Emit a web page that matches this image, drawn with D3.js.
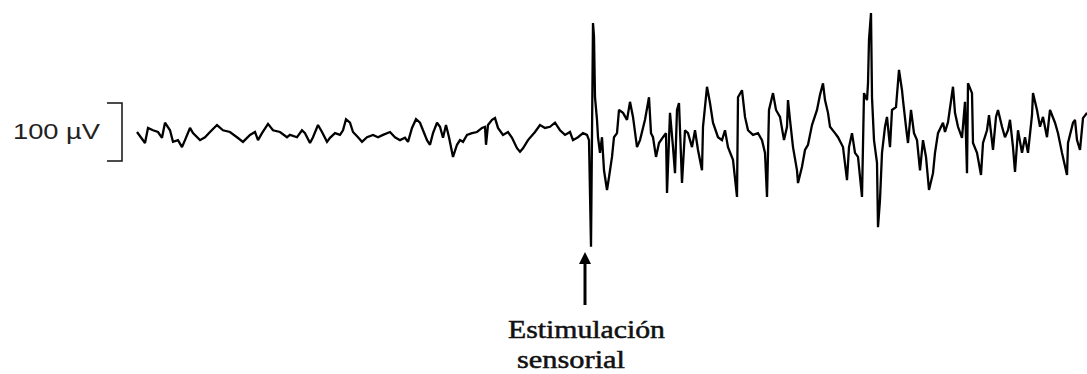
<!DOCTYPE html>
<html>
<head>
	<script src="https://cdn.jsdelivr.net/npm/d3@7"></script>
	<style>
		html, body {
			padding: 0;
			margin: 0;
			background: white;
		}
	</style>
</head>
<body>
	<div id="chart"></div>
	<script>
		// EEG trace, time in seconds, amplitude in microvolts
		var timeS = [
			0.00, 0.08, 0.11, 0.16, 0.21, 0.25, 0.28, 0.33, 0.36, 0.41, 0.45, 0.48, 0.53, 0.56, 0.63, 0.68, 0.73, 0.80, 0.86, 0.93,
			1.00, 1.06, 1.13, 1.18, 1.21, 1.25, 1.31, 1.36, 1.43, 1.50, 1.53, 1.60, 1.65, 1.68, 1.73, 1.76, 1.81, 1.85, 1.90, 1.93,
			1.98, 2.03, 2.06, 2.09, 2.13, 2.16, 2.21, 2.25, 2.30, 2.36, 2.41, 2.46, 2.53, 2.58, 2.63, 2.68, 2.71, 2.75, 2.79, 2.83,
			2.86, 2.90, 2.93, 2.96, 3.00, 3.03, 3.06, 3.09, 3.12, 3.16, 3.20, 3.23, 3.26, 3.30, 3.35, 3.40, 3.45, 3.48, 3.49, 3.51,
			3.55, 3.58, 3.61, 3.66, 3.71, 3.75, 3.80, 3.83, 3.86, 3.91, 3.98, 4.03, 4.08, 4.13, 4.18, 4.23, 4.28, 4.33, 4.36, 4.41,
			4.46, 4.50, 4.52, 4.54, 4.56, 4.57, 4.58, 4.60, 4.61, 4.63, 4.65, 4.67, 4.70, 4.72, 4.75, 4.77, 4.80, 4.82, 4.86, 4.90,
			4.93, 4.96, 5.00, 5.03, 5.08, 5.12, 5.14, 5.16, 5.19, 5.22, 5.26, 5.29, 5.30, 5.33, 5.36, 5.38, 5.40, 5.42, 5.45, 5.48,
			5.51, 5.55, 5.58, 5.61, 5.65, 5.66, 5.70, 5.73, 5.76, 5.81, 5.85, 5.88, 5.91, 5.96, 6.00, 6.01, 6.05, 6.08, 6.11, 6.16,
			6.21, 6.25, 6.28, 6.30, 6.32, 6.36, 6.39, 6.43, 6.47, 6.50, 6.51, 6.53, 6.56, 6.60, 6.61, 6.65, 6.68, 6.71, 6.75, 6.80,
			6.83, 6.86, 6.88, 6.91, 6.93, 6.98, 7.01, 7.06, 7.10, 7.12, 7.15, 7.18, 7.21, 7.25, 7.27, 7.30, 7.31, 7.32, 7.34, 7.35,
			7.37, 7.40, 7.41, 7.43, 7.45, 7.48, 7.50, 7.53, 7.55, 7.59, 7.62, 7.65, 7.66, 7.69, 7.71, 7.74, 7.77, 7.80, 7.83, 7.86,
			7.89, 7.92, 7.96, 7.98, 8.01, 8.06, 8.08, 8.11, 8.16, 8.18, 8.21, 8.25, 8.28, 8.30, 8.31, 8.35, 8.36, 8.40, 8.44, 8.46,
			8.50, 8.52, 8.56, 8.59, 8.61, 8.65, 8.68, 8.71, 8.73, 8.76, 8.78, 8.81, 8.85, 8.88, 8.91, 8.95, 8.96, 9.00, 9.03, 9.06,
			9.10, 9.13, 9.18, 9.21, 9.25, 9.30, 9.31, 9.36, 9.38, 9.40, 9.43, 9.46, 9.50
		];
		var microvolts = [
			0, -19, 7, 3, 0, -10, 16, 3, -17, -14, -26, -14, 7, -2, -14, -9, 0, 12, 3, 0,
			-9, -17, -5, 0, -14, -2, 14, 3, 0, -9, -5, -9, 3, -2, -19, -9, 12, 0, -17, -10,
			-2, -5, 3, 22, 16, 0, -9, -17, -9, -5, -9, -5, 0, -9, -14, -10, -17, 7, 22, 16,
			3, -14, -22, -2, 16, 9, -10, 12, -9, -43, -22, -14, -17, -5, -2, 0, 7, 9, -22, 12,
			21, 24, 7, -5, 0, -10, -28, -34, -28, -14, 0, 12, 7, 9, 16, 3, -5, 0, -14, -9,
			-2, -5, -14, -198, 188, 164, 60, 21, -9, -36, -9, -66, -100, -78, -43, -9, -2, 38, 33, 21,
			52, 26, -26, -14, 21, 60, -2, -9, -43, -19, -9, -2, -105, 33, -26, -71, 38, 50, -88, 3,
			-2, -26, 3, -31, -66, 9, 78, 50, 16, -9, -14, 3, -26, -48, -112, 60, 72, 26, 3, -5,
			-2, -14, -36, -112, 38, 67, 38, 26, -14, 9, 55, 21, -26, -66, -88, -60, -31, -22, 12, 38,
			64, 84, 55, 33, 9, -2, -9, -26, -83, -26, -2, -36, -43, -112, 67, 55, 84, 159, 205, 60,
			-14, -53, -164, -117, -36, 9, 26, -26, 38, 43, 107, 72, 55, 9, -19, 38, -2, -14, -66, -14,
			-43, -100, -71, -36, -2, 16, 0, 17, 78, 33, 9, -10, 52, -71, 84, 67, -19, -36, -74, -19,
			3, 29, -31, 26, 38, 9, -9, 3, 21, -26, -69, 3, -36, -9, -36, 29, 67, 38, 9, 26,
			-9, 38, 16, -2, -36, -74, -19, 16, 21, -14, -31, 24, 33
		];
		var calibrationUV = [-50, 50];
		var calibrationLabel = "100 \u00b5V";
		var stimulusTimeS = 4.48;
		var stimulusLabel = ["Estimulación", "sensorial"];

		var width = 1087, height = 374;

		var svg = d3.select('#chart').append('svg')
			.attr('width', width)
			.attr('height', height)
			.style('display', 'block')
			.style('background-color', 'white');

		var x = d3.scaleLinear().domain([0, 9.5]).range([137, 1087]);
		var y = d3.scaleLinear().domain([-100, 100]).range([190, 74]);

		var points = timeS.map(function(t, i) { return [t, microvolts[i]]; });

		var line = d3.line()
			.x(function(d) { return x(d[0]); })
			.y(function(d) { return y(d[1]); });

		svg.append('path')
			.datum(points)
			.attr('d', line)
			.attr('fill', 'none')
			.attr('stroke', '#000')
			.attr('stroke-width', 2.3)
			.attr('stroke-linejoin', 'miter')
			.attr('stroke-miterlimit', 2);

		// calibration bracket
		var bx = 122, barTop = y(calibrationUV[1]), barBot = y(calibrationUV[0]);
		svg.append('path')
			.attr('d', 'M' + (bx - 15) + ',' + barTop + 'H' + bx + 'V' + barBot + 'H' + (bx - 15))
			.attr('fill', 'none')
			.attr('stroke', '#111')
			.attr('stroke-width', 1.5);

		svg.append('text')
			.attr('x', 13)
			.attr('y', (barTop + barBot) / 2 + 7)
			.attr('textLength', 87)
			.attr('lengthAdjust', 'spacingAndGlyphs')
			.style('font', '22px "Liberation Sans", Arial, sans-serif')
			.style('fill', '#222')
			.text(calibrationLabel);

		// stimulus arrow
		var ax = x(stimulusTimeS);
		svg.append('line')
			.attr('x1', ax).attr('x2', ax)
			.attr('y1', 305).attr('y2', 260)
			.attr('stroke', '#000')
			.attr('stroke-width', 3);
		svg.append('path')
			.attr('d', 'M' + ax + ',252L' + (ax + 6) + ',264L' + (ax - 6) + ',264Z')
			.attr('fill', '#000');

		var lab = svg.append('g')
			.style('font', '25px "Liberation Serif", "Times New Roman", serif')
			.style('fill', '#111')
			.style('stroke', '#111')
			.style('stroke-width', 0.5);
		lab.append('text')
			.attr('x', 508).attr('y', 338)
			.attr('textLength', 157)
			.attr('lengthAdjust', 'spacingAndGlyphs')
			.text(stimulusLabel[0]);
		lab.append('text')
			.attr('x', 517).attr('y', 368)
			.attr('textLength', 108)
			.attr('lengthAdjust', 'spacingAndGlyphs')
			.text(stimulusLabel[1]);
	</script>
</body>
</html>
